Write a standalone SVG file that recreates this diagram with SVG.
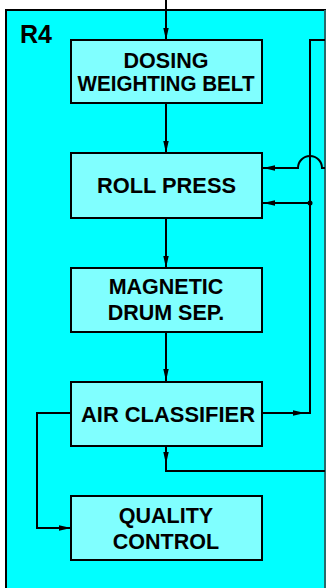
<svg xmlns="http://www.w3.org/2000/svg" width="326" height="588" viewBox="0 0 326 588">
<defs>
<style>
.box{fill:#80FFFF;stroke:#000;stroke-width:2}
.t{font-family:"Liberation Sans",Arial,sans-serif;font-weight:bold;font-size:21.5px;fill:#000;text-anchor:middle}
.c{fill:none;stroke:#000;stroke-width:2}
</style>
<marker id="ah" viewBox="0 0 12 6" refX="12" refY="3" markerWidth="13" markerHeight="6" markerUnits="userSpaceOnUse" orient="auto">
<path d="M0,0.3 L12,3 L0,5.7 Z" fill="#000"/>
</marker>
</defs>
<rect width="326" height="588" fill="#fff"/>
<g id="region-r4">
<rect x="6" y="10" width="319" height="600" fill="#00FFFF" stroke="#000" stroke-width="2"/>
<line x1="325" y1="10" x2="325" y2="588" stroke="#3a8f8f" stroke-width="1.5"/>
<text x="20" y="43" font-family="Liberation Sans,Arial,sans-serif" font-weight="bold" font-size="25" fill="#000">R4</text>
</g>
<g id="connectors">
<path class="c" d="M166,0 V40" marker-end="url(#ah)"/>
<path class="c" d="M166,103 V153" marker-end="url(#ah)"/>
<path class="c" d="M166,218 V268" marker-end="url(#ah)"/>
<path class="c" d="M166,332 V381" marker-end="url(#ah)"/>
<path class="c" d="M166,446 V464"  marker-end="url(#ah)"/>
<path class="c" d="M166,462 V471 H325"/>
<path class="c" d="M262,413 H305" marker-end="url(#ah)"/>
<path class="c" d="M300,413 H310 V40 H325"/>
<path class="c" d="M325,168 H322 A12,12 0 0 0 298,168 H263" marker-end="url(#ah)"/>
<path class="c" d="M310,203 H263" marker-end="url(#ah)"/>
<circle cx="310" cy="203" r="2.5" fill="#000"/>
<path class="c" d="M71,413 H37 V528 H71" marker-end="url(#ah)"/>
</g>
<g id="dosing-weighting-belt">
<rect class="box" x="71" y="40" width="191" height="63"/>
<text class="t" x="166" y="68">DOSING</text>
<text class="t" x="166" y="91" textLength="177" lengthAdjust="spacingAndGlyphs">WEIGHTING BELT</text>
</g>
<g id="roll-press">
<rect class="box" x="71" y="153" width="191" height="65"/>
<text class="t" x="166.5" y="193" textLength="139" lengthAdjust="spacingAndGlyphs">ROLL PRESS</text>
</g>
<g id="magnetic-drum-sep">
<rect class="box" x="71" y="268" width="191" height="64"/>
<text class="t" x="166" y="294">MAGNETIC</text>
<text class="t" x="166" y="320">DRUM SEP.</text>
</g>
<g id="air-classifier">
<rect class="box" x="71" y="382" width="191" height="64"/>
<text class="t" x="168" y="422" textLength="174" lengthAdjust="spacingAndGlyphs">AIR CLASSIFIER</text>
</g>
<g id="quality-control">
<rect class="box" x="71" y="496" width="191" height="64"/>
<text class="t" x="166" y="523">QUALITY</text>
<text class="t" x="166" y="549">CONTROL</text>
</g>
</svg>
